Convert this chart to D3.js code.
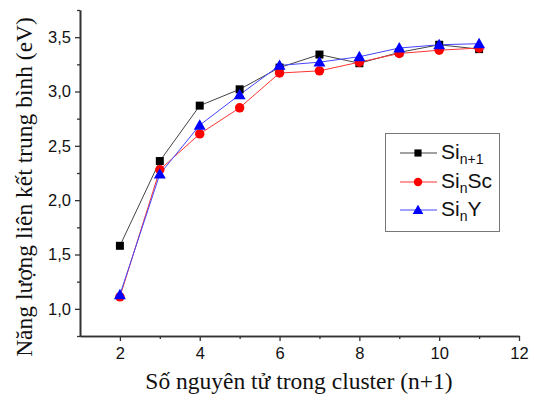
<!DOCTYPE html>
<html><head><meta charset="utf-8">
<script src="https://cdn.jsdelivr.net/npm/d3@7"></script>
<style>body{margin:0;background:#fff}</style>
</head><body>
<svg id="c" width="534" height="401"></svg>
<script>
const xValues = [2,3,4,5,6,7,8,9,10,11];
const siN1 = [1.58,2.36,2.87,3.02,3.22,3.34,3.26,3.36,3.43,3.39];
const siNSc = [1.11,2.28,2.61,2.85,3.17,3.19,3.27,3.35,3.38,3.40];
const siNY = [1.13,2.24,2.69,2.97,3.24,3.27,3.32,3.40,3.43,3.44];
const xTicks = [2,4,6,8,10,12];
const yTicks = [1.0,1.5,2.0,2.5,3.0,3.5];
const seriesNames = ["Si_{n+1}","Si_nSc","Si_nY"];

const svg = d3.select("#c");
const x = d3.scaleLinear().domain([1,12]).range([80,519]);
const y = d3.scaleLinear().domain([0.75,3.75]).range([336,10]);
const fmt = d => d3.format(".1f")(d).replace(".", ",");

// axes
const xAxis = svg.append("g").attr("transform","translate(0,336)")
  .call(d3.axisBottom(x).tickValues(xTicks).tickSize(5).tickSizeOuter(0).tickFormat(d3.format("d")));
const xMinor = svg.append("g").attr("transform","translate(0,336)")
  .call(d3.axisBottom(x).tickValues([3,5,7,9,11]).tickSize(3).tickSizeOuter(0).tickFormat(""));
const yAxis = svg.append("g").attr("transform","translate(80,0)")
  .call(d3.axisLeft(y).tickValues(yTicks).tickSize(5).tickSizeOuter(0).tickFormat(fmt));
const yMinor = svg.append("g").attr("transform","translate(80,0)")
  .call(d3.axisLeft(y).tickValues([0.75,1.25,1.75,2.25,2.75,3.25,3.75]).tickSize(3).tickSizeOuter(0).tickFormat(""));
[xAxis,xMinor,yAxis,yMinor].forEach(g=>{
  g.selectAll("path").attr("stroke","#333").attr("stroke-width",1.6);
  g.selectAll("line").attr("stroke","#333").attr("stroke-width",1.3);
  g.selectAll("text").attr("font-family","Liberation Sans, Arial, sans-serif").attr("font-size",16.5).attr("fill","#111");
});
xAxis.selectAll("text").attr("y",8).attr("dy","0.9em");
yAxis.selectAll("text").attr("x",-9);

// titles
svg.append("text").attr("x",299).attr("y",389).attr("text-anchor","middle")
  .attr("font-family","Liberation Serif, Times New Roman, serif").attr("font-size",23.5).attr("fill","#111")
  .text("Số nguyên tử trong cluster (n+1)");
svg.append("text").attr("transform","translate(32,187) rotate(-90)").attr("text-anchor","middle")
  .attr("font-family","Liberation Serif, Times New Roman, serif").attr("font-size",23.5).attr("fill","#111")
  .text("Năng lượng liên kết trung bình (eV)");

const series = [
  {vals: siN1, line:"#444", fill:"#000", shape:"square"},
  {vals: siNSc, line:"#f33", fill:"#f00", shape:"circle"},
  {vals: siNY, line:"#44f", fill:"#00f", shape:"triangle"}
];
const sym = {square:d3.symbolSquare, circle:d3.symbolCircle, triangle:d3.symbolTriangle};
const sz = {square:64, circle:70, triangle:62};
const line = d3.line().x((d,i)=>x(xValues[i])).y(d=>y(d));
series.forEach(s=>{
  svg.append("path").datum(s.vals).attr("d",line).attr("fill","none").attr("stroke",s.line).attr("stroke-width",1);
});
series.forEach(s=>{
  svg.append("g").selectAll("path").data(s.vals).join("path")
    .attr("transform",(d,i)=>`translate(${x(xValues[i])},${y(d)+(s.shape==="triangle"?1:0)})`)
    .attr("d",d3.symbol().type(sym[s.shape]).size(sz[s.shape]))
    .attr("fill",s.fill);
});

// legend
const lg = svg.append("g");
lg.append("rect").attr("x",385.5).attr("y",133.5).attr("width",114).attr("height",98)
  .attr("fill","#fff").attr("stroke","#777").attr("stroke-width",1);
const ly = [153,182,210];
series.forEach((s,i)=>{
  lg.append("line").attr("x1",400).attr("x2",437).attr("y1",ly[i]).attr("y2",ly[i]).attr("stroke",s.line).attr("stroke-width",1);
  lg.append("path").attr("transform",`translate(418,${ly[i]+(s.shape==="triangle"?1:0)})`)
    .attr("d",d3.symbol().type(sym[s.shape]).size(sz[s.shape]*0.8)).attr("fill",s.fill);
  const t = lg.append("text").attr("x",441).attr("y",ly[i]+6)
    .attr("font-family","Liberation Sans, Arial, sans-serif").attr("font-size",21).attr("fill","#111");
  const name = seriesNames[i];
  const m = name.match(/^(Si)_(\{[^}]*\}|.)(.*)$/);
  const sub = m[2].replace(/[{}]/g,"");
  t.append("tspan").text(m[1]);
  t.append("tspan").attr("font-size",14).attr("dy",5).text(sub);
  if (m[3]) t.append("tspan").attr("dy",-5).text(m[3]);
});
</script>
</body></html>
